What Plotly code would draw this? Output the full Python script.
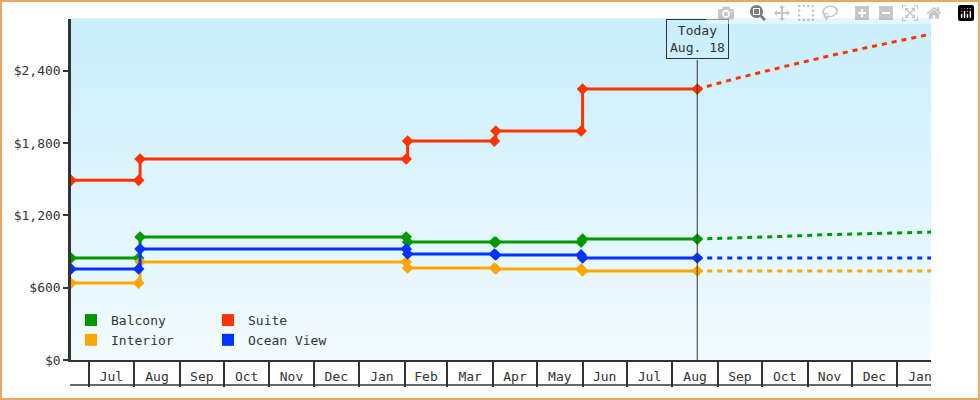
import plotly.graph_objects as go

step_dates = ["2023-06-19", "2023-08-04", "2023-08-05", "2024-02-02", "2024-02-03",
              "2024-04-02", "2024-04-03", "2024-05-31", "2024-06-01", "2024-08-18"]
suite    = [1490, 1490, 1667, 1667, 1816, 1816, 1899, 1899, 2247, 2247]
balcony  = [846, 846, 1020, 1020, 978, 978, 978, 978, 1003, 1003]
ocean    = [755, 755, 921, 921, 879, 879, 871, 871, 846, 846]
interior = [638, 638, 813, 813, 763, 763, 755, 755, 738, 738]

fc_dates = ["2024-08-18", "2024-09-15", "2024-10-15", "2024-11-15", "2024-12-15", "2025-01-24"]
suite_fc    = [2247, 2340, 2430, 2520, 2600, 2703]
balcony_fc  = [1003, 1012, 1025, 1040, 1050, 1061]
ocean_fc    = [846, 846, 846, 846, 846, 846]
interior_fc = [738, 738, 738, 738, 738, 738]

today = "2024-08-18"
yticks = [0, 600, 1200, 1800, 2400]
yticktext = ["$0", "$600", "$1,200", "$1,800", "$2,400"]

series = [("Balcony", balcony, balcony_fc, "#009900"), ("Suite", suite, suite_fc, "#ff3300"),
          ("Interior", interior, interior_fc, "#ffa500"), ("Ocean View", ocean, ocean_fc, "#0033ff")]

fig = go.Figure()
N = 40
top = (201, 238, 252); bot = (242, 251, 255)
for i in range(N):
    t = i / (N - 1)
    c = tuple(round(top[k] + (bot[k] - top[k]) * t) for k in range(3))
    fig.add_shape(type="rect", xref="paper", yref="paper", x0=0, x1=1,
                  y0=1 - (i + 1) / N, y1=1 - i / N + 0.002, line_width=0,
                  fillcolor="rgb(%d,%d,%d)" % c, layer="below")

for name, vals, fc, col in series:
    fig.add_trace(go.Scatter(x=fc_dates, y=fc, mode="lines", line=dict(color=col, width=3, dash="5px,5px"),
                             showlegend=False, hoverinfo="skip"))
for name, vals, fc, col in series:
    fig.add_trace(go.Scatter(x=step_dates, y=vals, mode="lines+markers", line_shape="hv",
                             line=dict(color=col, width=3),
                             marker=dict(symbol="diamond", size=9, color=col), showlegend=False))
for i, (name, vals, fc, col) in enumerate(series):
    fig.add_trace(go.Scatter(x=[None], y=[None], mode="markers", name=name,
                             marker=dict(symbol="square", size=12, color=col),
                             legend="legend" if i < 2 else "legend2"))

fig.add_shape(type="line", x0=today, x1=today, yref="y", y0=0, y1=2488,
              line=dict(color="#333", width=1))
fig.add_annotation(x=today, y=1, yref="paper", yanchor="top", showarrow=False,
                   text="Today<br>Aug. 18", bordercolor="#333", borderwidth=1, borderpad=3,
                   font=dict(size=13, color="#333"))
fig.add_shape(type="line", xref="paper", yref="paper", x0=-0.001, x1=1, y0=-25/341, y1=-25/341,
              line=dict(color="#333", width=1.5))
fig.add_shape(type="rect", xref="paper", yref="paper", x0=-70/860, x1=1+48/860,
              y0=-39/341, y1=1+18/341, line=dict(color="#e8a860", width=2))

leg = dict(orientation="h", bgcolor="rgba(0,0,0,0)", font=dict(size=13, color="#333"),
           entrywidth=92, itemsizing="constant", xanchor="left", yanchor="middle", tracegroupgap=0)
fig.update_layout(
    width=980, height=400, margin=dict(l=71, r=49, t=19, b=40),
    paper_bgcolor="white", plot_bgcolor="rgba(0,0,0,0)",
    font=dict(family="DejaVu Sans Mono", size=13, color="#333"),
    legend=dict(leg, x=0.0, y=0.117),
    legend2=dict(leg, x=0.0, y=0.059),
    xaxis=dict(range=["2023-06-19", "2025-01-24"], dtick="M1", tick0="2023-07-01",
               tickformat="%b", ticklabelmode="period", ticks="outside", ticklen=25,
               tickcolor="#333", tickwidth=1.5, ticklabelstandoff=-21,
               showgrid=False, zeroline=False, showline=True, linecolor="#333", linewidth=1.5),
    yaxis=dict(range=[0, 2828], tickvals=yticks, ticktext=yticktext,
               ticks="outside", ticklen=5, tickwidth=2, tickcolor="#333",
               showgrid=False, zeroline=False, showline=True, linecolor="#333", linewidth=2.5),
)
fig.write_html("out.html")
with open("out.html") as f:
    html = f.read()
html = html.replace("<head>", "<head><style>body{margin:0}</style>", 1)
with open("out.html", "w") as f:
    f.write(html)
